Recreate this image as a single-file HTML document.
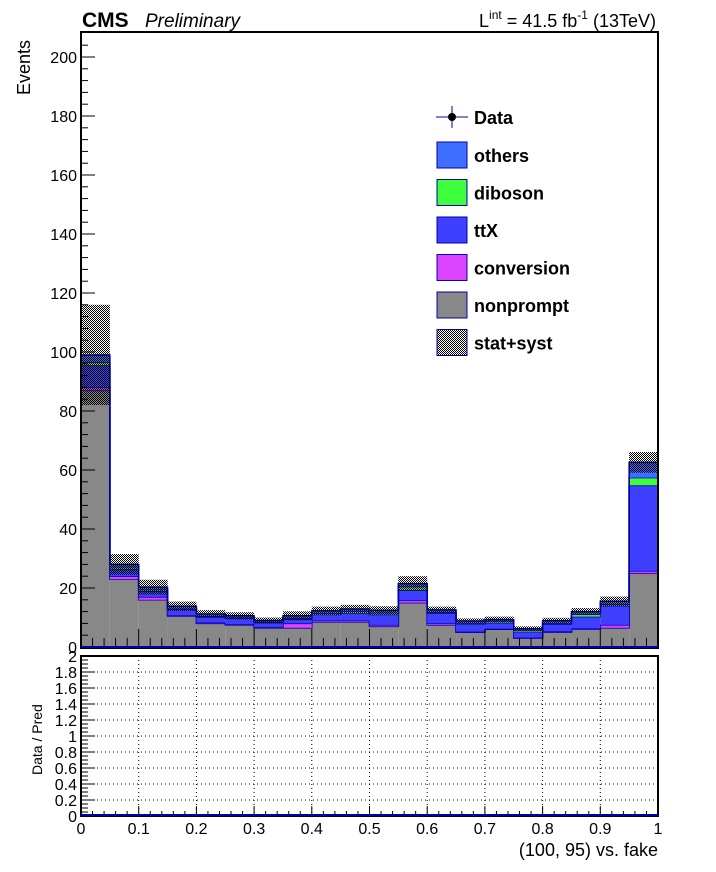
<!DOCTYPE html>
<html><head><meta charset="utf-8"><style>
html,body{margin:0;padding:0;background:#fff;}
svg{display:block;font-family:"Liberation Sans",Arial,sans-serif;}
</style></head><body>
<svg id="c" width="716" height="872" viewBox="0 0 716 872" xmlns="http://www.w3.org/2000/svg">
<defs>
<pattern id="hatch" width="2" height="2" patternUnits="userSpaceOnUse">
<rect x="0" y="0" width="1" height="1" fill="#000"/><rect x="1" y="1" width="1" height="1" fill="#000"/>
</pattern>
</defs>
<g id="main"></g>
</svg>
<script>
const binEdgesStart = 0, binWidth = 0.05;
const nonprompt = [87, 23, 16, 10.5, 8, 7.5, 6.5, 6.5, 8.5, 8.5, 7, 15, 7.5, 5, 6, 3, 5, 6, 6.5, 25];
const conversion = [1, 1, 1, 0.3, 0.3, 0.3, 0.3, 1.5, 0.5, 0.5, 0.5, 0.8, 0.5, 0.2, 0.2, 0.2, 0.3, 0.3, 1, 0.8];
const ttX = [7.5, 2.5, 2, 2, 2, 2, 1.5, 1.5, 2, 2.5, 3.5, 3.5, 3.5, 2.5, 2, 2, 2.5, 4, 6.5, 29];
const diboson = [1, 0.7, 0.5, 0.2, 0.2, 0.2, 0.2, 0.3, 0.5, 0.6, 0.6, 1.2, 0.3, 0.3, 0.5, 0.5, 0.3, 0.8, 0.5, 2.6];
const others = [2.5, 0.8, 0.8, 0.8, 0.7, 0.6, 0.5, 0.8, 0.8, 0.8, 0.8, 1.0, 0.8, 0.8, 0.6, 0.5, 0.8, 0.9, 1.0, 5.2];
const errs = [17, 3.5, 2.5, 1.6, 1.3, 1.2, 1.0, 1.5, 1.4, 1.4, 1.4, 2.5, 1.1, 0.9, 1.0, 0.8, 1.0, 1.2, 1.6, 3.5];
const yTicks = [0, 20, 40, 60, 80, 100, 120, 140, 160, 180, 200];
const rTicks = [0, 0.2, 0.4, 0.6, 0.8, 1, 1.2, 1.4, 1.6, 1.8, 2];
const xTicks = [0, 0.1, 0.2, 0.3, 0.4, 0.5, 0.6, 0.7, 0.8, 0.9, 1];

const X0 = 81, X1 = 658, T = 32, B = 647, RT = 656, RB = 816;
const sx = v => X0 + (X1 - X0) * v;
const sy = v => B - v * 2.95;
const sr = v => RB - (RB - RT) * v / 2;
const NS = 'http://www.w3.org/2000/svg';
const g = document.getElementById('main');
function mk(tag, attrs, parent) {
  const e = document.createElementNS(NS, tag);
  for (const k in attrs) e.setAttribute(k, attrs[k]);
  (parent || g).appendChild(e);
  return e;
}
function txt(s, attrs) { const t = mk('text', attrs); t.textContent = s; return t; }

const series = [
  {name: 'nonprompt', vals: nonprompt, color: '#888888'},
  {name: 'conversion', vals: conversion, color: '#dd44ff'},
  {name: 'ttX', vals: ttX, color: '#3f3fff'},
  {name: 'diboson', vals: diboson, color: '#3dff3d'},
  {name: 'others', vals: others, color: '#3f6fff'}
];
const cum = nonprompt.map(() => 0);
series.forEach(s => {
  s.vals.forEach((v, i) => {
    const x0 = sx(binEdgesStart + i * binWidth), x1 = sx(binEdgesStart + (i + 1) * binWidth);
    const r = mk('rect', {x: x0, y: sy(cum[i] + v), width: x1 - x0, height: sy(cum[i]) - sy(cum[i] + v), fill: s.color});
    
    
    cum[i] += v;
  });
  // step outline of cumulative top
  let d = 'M' + sx(0) + ',' + sy(0);
  cum.forEach((c, i) => { d += ' L' + sx(i * binWidth) + ',' + sy(c) + ' L' + sx((i + 1) * binWidth) + ',' + sy(c); });
  d += ' L' + sx(1) + ',' + sy(0);
  const p = mk('path', {d: d, fill: 'none', stroke: '#0000aa', 'stroke-width': 1.5});
  
  
});
errs.forEach((e, i) => {
  const x0 = sx(i * binWidth), x1 = sx((i + 1) * binWidth);
  const r = mk('rect', {x: x0, y: sy(cum[i] + e), width: x1 - x0, height: sy(cum[i] - e) - sy(cum[i] + e), fill: 'url(#hatch)'});
  
  
});

// frames
[[T, B + 1], [RT, RB]].forEach(([a, b], k) => {
  const f = mk('rect', {x: X0, y: a, width: X1 - X0, height: b - a, fill: 'none', stroke: '#000', 'stroke-width': 2});
  
  
});
yTicks.forEach(v => {
  mk('line', {x1: X0, x2: X0 + 14, y1: sy(v), y2: sy(v), stroke: '#000'});
  const t = txt(String(v), {x: X0 - 4, y: sy(v) + 6, 'text-anchor': 'end', 'font-size': 16});
  
  
  for (let m = 1; m < 5; m++) { const mv = v + m * 4; if (mv < 208) mk('line', {x1: X0, x2: X0 + 7, y1: sy(mv), y2: sy(mv), stroke: '#000'}); }
});
for (let i = 0; i <= 50; i++) {
  const v = i / 50, big = i % 5 === 0;
  mk('line', {x1: sx(v), x2: sx(v), y1: B, y2: B - (big ? 18 : 9), stroke: '#000'});
  mk('line', {x1: sx(v), x2: sx(v), y1: RB, y2: RB - (big ? 10 : 5), stroke: '#000'});
}
rTicks.forEach(v => {
  if (v > 0 && v < 2) mk('line', {x1: X0, x2: X1, y1: sr(v), y2: sr(v), stroke: '#000', 'stroke-dasharray': '1,3'});
  mk('line', {x1: X0, x2: X0 + 14, y1: sr(v), y2: sr(v), stroke: '#000'});
  const t = txt(String(v), {x: X0 - 4, y: sr(v) + 6, 'text-anchor': 'end', 'font-size': 16});
  
  
  for (let m = 1; m < 4; m++) { const mv = v + m * 0.05; if (mv < 2) mk('line', {x1: X0, x2: X0 + 7, y1: sr(mv), y2: sr(mv), stroke: '#000'}); }
});
xTicks.forEach(v => {
  if (v > 0 && v < 1) mk('line', {x1: sx(v), x2: sx(v), y1: RT, y2: RB, stroke: '#000', 'stroke-dasharray': '1,3'});
  const t = txt(String(v), {x: sx(v), y: 834, 'text-anchor': 'middle', 'font-size': 16});
  
  
});
mk('line', {x1: X0, x2: X1, y1: RB - 1, y2: RB - 1, stroke: '#0000aa', 'stroke-width': 2});
mk('line', {x1: X0, x2: X1, y1: B, y2: B, stroke: '#0000aa', 'stroke-width': 2});

const leg = [
  {n: 'others', c: '#3f6fff'}, {n: 'diboson', c: '#3dff3d'}, {n: 'ttX', c: '#3f3fff'},
  {n: 'conversion', c: '#dd44ff'}, {n: 'nonprompt', c: '#888888'}, {n: 'stat+syst', c: 'url(#hatch)'}
];
const lg = mk('g', {});


mk('line', {x1: 436, x2: 468, y1: 117, y2: 117, stroke: '#0000aa'}, lg);
mk('line', {x1: 452, x2: 452, y1: 106, y2: 128, stroke: '#0000aa'}, lg);
mk('circle', {cx: 452, cy: 117, r: 4, fill: '#000'}, lg);
const dt = mk('text', {x: 474, y: 124, 'font-size': 18, 'font-weight': 'bold'}, lg); dt.textContent = 'Data';
leg.forEach((l, k) => {
  const yc = 155 + k * 37.5;
  mk('rect', {x: 437, y: yc - 13, width: 30, height: 26, fill: l.c, stroke: '#0000aa'}, lg);
  const t = mk('text', {x: 474, y: yc + 7, 'font-size': 18, 'font-weight': 'bold'}, lg); t.textContent = l.n;
});

let t;
t = txt('CMS', {x: 82, y: 27, 'font-size': 21, 'font-weight': 'bold'});  
t = txt('Preliminary', {x: 145, y: 27, 'font-size': 19, 'font-style': 'italic'});  
t = txt('', {x: 656, y: 27, 'font-size': 18, 'text-anchor': 'end'});  
t.innerHTML = 'L<tspan dy="-8" font-size="12">int</tspan><tspan dy="8"> = 41.5 fb</tspan><tspan dy="-8" font-size="12">-1</tspan><tspan dy="8"> (13TeV)</tspan>';
t = txt('Events', {x: 0, y: 0, 'font-size': 18, transform: 'translate(30,95) rotate(-90)'});  
t = txt('Data / Pred', {x: 0, y: 0, 'font-size': 14, transform: 'translate(42,775) rotate(-90)'});  
t = txt('(100, 95) vs. fake', {x: 658, y: 856, 'font-size': 18, 'text-anchor': 'end'});  
</script>
</body></html>
